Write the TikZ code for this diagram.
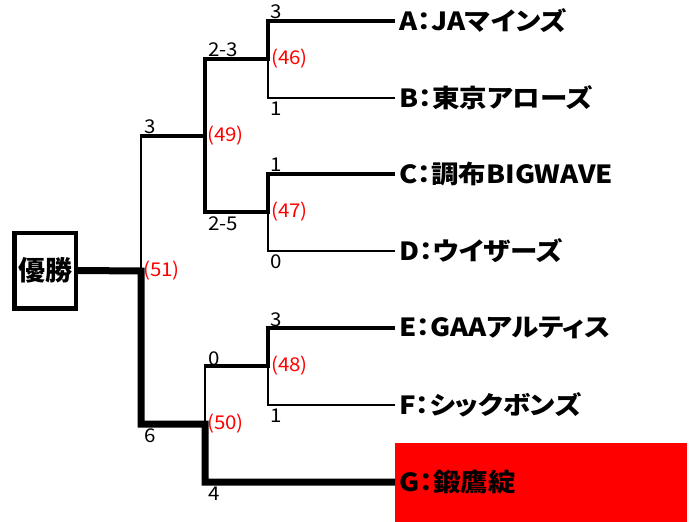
\documentclass[tikz,border=0pt]{standalone}
\usepackage{fontspec}
\newfontfamily\jp[FakeStretch=1.08]{Noto Sans CJK JP}
\newfontfamily\jpbox{Noto Sans CJK JP}
\newfontfamily\jpp[RawFeature=+palt,FakeStretch=1.1]{Noto Sans CJK JP}
\definecolor{winred}{RGB}{255,0,0}
\begin{document}
\begin{tikzpicture}[x=1pt,y=-1pt,
  lnthin/.style={line width=2.7pt},
  lnmid/.style={line width=4.5pt},
  lnthick/.style={line width=7pt},
  score/.style={inner sep=0pt,anchor=base west,font=\jp\fontsize{19}{19}\selectfont},
  seed/.style={inner sep=0pt,anchor=west,text=winred,font=\jp\fontsize{19}{19}\selectfont},
  team/.style={inner sep=0pt,anchor=west,font=\jpp\bfseries\fontsize{25}{25}\selectfont}]
\useasboundingbox (0,0) rectangle (691,522);
% coordinates
\coordinate (tA) at (395,21);  \coordinate (tB) at (395,98);
\coordinate (tC) at (395,174); \coordinate (tD) at (395,251);
\coordinate (tE) at (395,328); \coordinate (tF) at (395,405);
\coordinate (tG) at (395,482);
\coordinate (a1) at (268,21);  \coordinate (b1) at (268,98);  \coordinate (m46) at (268,59);
\coordinate (c1) at (268,174); \coordinate (d1) at (268,251); \coordinate (m47) at (268,212);
\coordinate (e1) at (268,328); \coordinate (f1) at (268,405); \coordinate (m48) at (268,366);
\coordinate (p46) at (205,59); \coordinate (p47) at (205,212); \coordinate (m49) at (205,136);
\coordinate (p48) at (205,366); \coordinate (g2) at (205,482); \coordinate (m50) at (205,424);
\coordinate (p49) at (141,136); \coordinate (p50) at (141,424); \coordinate (m51) at (141,271);
% winner box
\node[draw,line width=4.5pt,minimum width=61.5pt,minimum height=75.5pt,inner sep=0pt,
      font=\jpbox\bfseries\fontsize{27}{27}\selectfont] (yusho) at (45,270.5) {優勝};
% red box for G
\node[fill=winred,anchor=north west,minimum width=292pt,minimum height=79pt,inner sep=0pt] (gbox) at (395,443) {};
% thin lines
\draw[lnthin] (tB) -- (b1) -- (m46);
\draw[lnthin] (tD) -- (d1) -- (m47);
\draw[lnthin] (tF) -- (f1) -- (m48);
\draw[lnthin,line cap=rect] (p49) -- (m51);
\draw[lnthin,line cap=rect] (p48) -- (m50);
% medium lines
\draw[lnmid] (tA) -- (a1) -- (m46) -- (p46) -- (p47) -- (m47) -- (c1) -- (tC);
\draw[lnmid] (m49) -- ([xshift=-1.3pt]p49);
\draw[lnmid] (tE) -- (e1) -- (m48) -- ([xshift=-1.3pt]p48);
% thick lines
\draw[lnthick] (yusho.east) -- (m51) -- (p50) -- (m50) -- (g2) -- (tG);
% team labels
\node[team] (A) at (399,21) {A：JAマインズ};
\node[team] (B) at (399,98) {B：東京アローズ};
\node[team] (C) at (399,174) {C：調布BIGWAVE};
\node[team] (D) at (399,251) {D：ウイザーズ};
\node[team] (E) at (399,328) {E：GAAアルティス};
\node[team] (F) at (399,405) {F：シックボンズ};
\node[team] (G) at (399,482) {G：鍛鷹綻};
% scores
\node[score] (sA) at (270,18) {3};
\node[score] (sB) at (270,115) {1};
\node[score] (sC) at (270,171) {1};
\node[score] (sD) at (270,268) {0};
\node[score] (sE) at (270,326) {3};
\node[score] (sF) at (270,422) {1};
\node[score] (s46) at (208,56) {2-3};
\node[score] (s47) at (208,230) {2-5};
\node[score] (s48) at (208,365) {0};
\node[score] (s50) at (208,500) {4};
\node[score] (s49) at (144,133) {3};
\node[score] (s51) at (144,442) {6};
% seeds
\node[seed] (n46) at (271,59) {(46)};
\node[seed] (n47) at (271,212) {(47)};
\node[seed] (n48) at (271,366) {(48)};
\node[seed] (n49) at (207,136) {(49)};
\node[seed] (n50) at (207,424) {(50)};
\node[seed] (n51) at (143,271) {(51)};
\end{tikzpicture}
\end{document}
